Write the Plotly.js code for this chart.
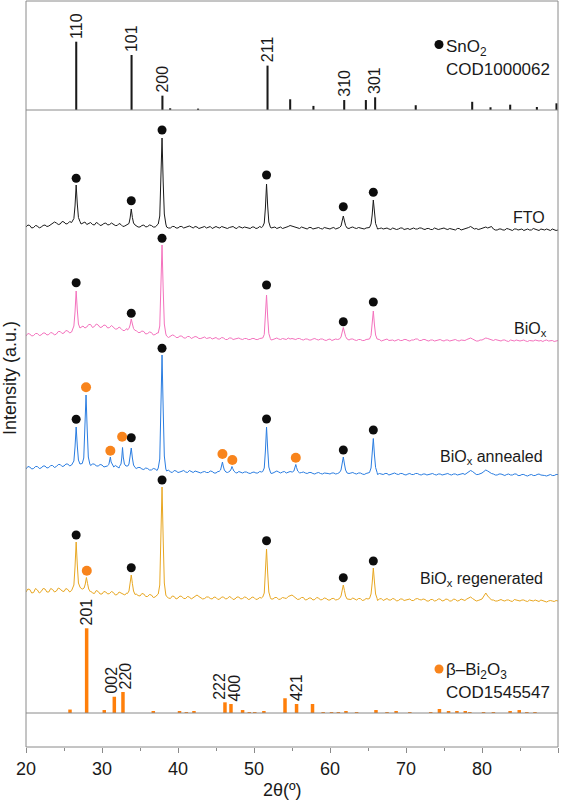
<!DOCTYPE html>
<html>
<head>
<meta charset="utf-8">
<script src="https://cdn.plot.ly/plotly-3.0.1.min.js"></script>
<style>
  html, body { margin: 0; padding: 0; background: #ffffff; }
  #chart { width: 566px; height: 802px; }
</style>
</head>
<body>
<div id="chart"></div>
<script>
// ---- background readings: whole-step grid from SCAN_START, plus the readings halfway between ----
const SCAN_START = 20;
const SCAN_STEP = 0.5;

// ---- SnO2 reference pattern (COD 1000062): 2θ, relative intensity, hkl ----
const snoPos = [26.61, 33.89, 37.95, 38.97, 42.64, 51.78, 54.76, 57.82, 61.87, 64.72, 65.94, 71.28, 78.71, 81.12, 83.71, 87.22, 89.8];
const snoInt = [100, 80.5, 21, 2.5, 2, 65, 15.7, 6, 14.6, 14.6, 18.6, 7, 12, 4, 7.8, 4.4, 9.8];
const snoHkl = ['110', '101', '200', '', '', '211', '', '', '310', '', '301', '', '', '', '', '', ''];

// ---- β-Bi2O3 reference pattern (COD 1545547): 2θ, relative intensity, hkl ----
const biPos = [25.79, 27.98, 30.3, 31.62, 32.76, 36.75, 40.2, 41.1, 42.1, 46.18, 46.97, 48.5, 49.38, 50.1, 51.3, 54.08, 55.6, 57.7,
               59.1, 60.2, 61.1, 62.1, 63.5, 66.05, 67.5, 68.7, 70.5, 73.25, 74.4, 75.6, 76.7, 77.8, 78.4, 80.2, 81.5, 83.7, 84.9, 85.9, 86.97];
const biInt = [4.1, 100, 3.5, 19.2, 24.8, 2.4, 2.4, 1.2, 2.4, 12.6, 10.6, 3.5, 1.2, 1.2, 2.4, 17.4, 10.6, 10.6,
               1.2, 1.2, 1.2, 2.4, 1.2, 3.5, 1.2, 2.4, 1.2, 1.2, 4.7, 2.4, 2.4, 2.4, 1.2, 1.2, 1.2, 2.4, 3.5, 1.2, 1.2];
const biHkl = ['', '201', '', '002', '220', '', '', '', '', '222', '400', '', '', '', '', '', '421', '',
               '', '', '', '', '', '', '', '', '', '', '', '', '', '', '', '', '', '', '', '', ''];

// ---- FTO substrate ----
const ftoBg = [
  3, 4.5, 2.5, 4, 3, 5, 4, 6.5, 7, 6,
  8, 6.5, 7.5, 8, 7, 7, 5.5, 7.5, 5, 6.5,
  5, 7, 5.5, 6, 4.5, 5.5, 4, 5, 5, 4.5,
  3, 5, 3.5, 4.5, 3, 4, 4, 3, 2, 3.5,
  2, 3.5, 2.5, 4, 2, 3, 2, 3.5, 2.5, 1.5,
  3.5, 2, 3, 1.5, 3, 2, 3.5, 2, 2.5, 1.5,
  3, 2, 2.5, 2, 2, 2.5, 1.5, 3, 2, 3.5,
  4, 2.5, 1.5, 2.5, 1, 2.5, 1.5, 2.5, 1, 2,
  1, 2.5, 1.5, 2, 2, 1.5, 3, 1.5, 2, 1,
  2.5, 1.5, 1.5, 1.5, 1, 2, 0.5, 1.5, 1, 2,
  1, 0.5, 2, 1, 2, 0.5, 1.5, 0.5, 1.5, 1,
  2, 0.5, 1, 0, 1.5, 0.5, 1.5, 3.5, 1, 0.5,
  1.5, 3, 2.5, 1, 0, 1, 0, 1, -0.5, 1,
  0.5, -0.5, 1, 0, 1, -0.5, 0.5, 1, -0.5, 0.5,
  0];
const ftoBgMid = [
  5, 2, 4.5, 2, 4.5, 3.5, 5.5, 8, 5.5, 8.5,
  6, 8.5, 6.5, 8.5, 6, 8, 6.5, 5.5, 7.5, 4.5,
  6.5, 5, 7, 4.5, 6.5, 3.5, 5.5, 4, 5.5, 3,
  4.5, 3, 5, 3, 4.5, 3, 4.5, 2, 3.5, 2,
  3.5, 2, 3.5, 3, 3.5, 1.5, 3, 2, 3.5, 2.5,
  2.5, 3.5, 2, 2.5, 3.5, 1.5, 2.5, 3, 1.5, 3,
  1.5, 3.5, 1.5, 3, 2, 3, 2.5, 1.5, 3, 4.5,
  3, 2, 3, 1.5, 2.5, 1, 2.5, 1.5, 2.5, 1,
  2, 1, 2.5, 1, 2.5, 2.5, 2, 2.5, 1, 2,
  1.5, 2.5, 1, 2, 1.5, 1, 2, 0.5, 2, 0.5,
  1.5, 1.5, 1, 2, 1, 1.5, 0.5, 2, 0.5, 1.5,
  1, 1.5, 0, 1.5, 0, 1.5, 2.5, 2, 1.5, 1,
  2.5, 2, 3.5, 0, 1, 0, 1.5, 0, 1, 0,
  1, 0.5, 0, 1.5, 0, 1, 0, 0, 1, -0.5];
const ftoPeaks = [
  [26.1, 8.5], [26.3, 11.5], [26.45, 24], [26.6, 45], [26.75, 26], [26.9, 12.5], [27.1, 8.5],
  [33.35, 5.5], [33.55, 6.5], [33.7, 12], [33.85, 21], [34.0, 12.5], [34.15, 7], [34.35, 5],
  [37.4, 6], [37.6, 14], [37.75, 44], [37.9, 92], [38.05, 48], [38.2, 16], [38.4, 6],
  [51.15, 3.5], [51.35, 7], [51.5, 22], [51.65, 46], [51.8, 24], [51.95, 8], [52.15, 3],
  [61.25, 2.5], [61.45, 4], [61.6, 8], [61.75, 14], [61.9, 9], [62.05, 4.5], [62.25, 2],
  [65.2, 2.5], [65.4, 6], [65.55, 15], [65.7, 30], [65.85, 17], [66.0, 6.5], [66.2, 2.5]];
const ftoSnoX = [26.6, 33.85, 37.9, 51.65, 61.75, 65.7];
const ftoSnoY = [51.7, 29.3, 100, 55, 23.3, 37.7];

// ---- BiOx as deposited ----
const bioxBg = [
  5, 7, 5.5, 7.5, 6, 8, 6.5, 8, 7, 9.5,
  8, 10, 9, 11, 12, 15, 14, 16.5, 14.5, 16,
  14, 15.5, 13.5, 14, 12, 12.5, 10.5, 11, 10, 10.5,
  8.5, 9.5, 7.5, 8.5, 6.5, 7, 6, 5, 4.5, 5.5,
  3.5, 5, 3, 4.5, 3.5, 4, 2.5, 4, 3, 2,
  3.5, 2, 3, 1.5, 3, 2, 3, 1.5, 2.5, 1.5,
  2.5, 1.5, 3, 2, 2, 1.5, 3, 1.5, 2, 3,
  2.5, 1.5, 2.5, 1, 2, 1, 2.5, 1, 2, 0.5,
  2, 1, 1.5, 2, 2, 1, 2, 0.5, 1.5, 0.5,
  2, 1, 1, 1.5, 0.5, 2, 1, 0, 1.5, 0.5,
  1.5, 0, 1, 2, 0.5, 1.5, 0, 1, 0.5, 1.5,
  0, 1, 0.5, 1.5, 0, 1, 1.5, 3, 1, 0,
  1, 3, 2, 0.5, 1, 0, 1, -0.5, 0.5, 1,
  0, 1, -0.5, 0.5, 1, 0, -0.5, 1, 0, -0.5,
  0.5];
const bioxBgMid = [
  7.5, 5, 7.5, 5.5, 8, 6, 8.5, 6, 9.5, 7.5,
  10.5, 8, 11, 10, 14, 13, 16.5, 13.5, 17, 13.5,
  16, 13, 15.5, 12, 14, 10.5, 12.5, 9.5, 11.5, 8.5,
  10, 7, 9, 6, 8, 5.5, 6.5, 3.5, 6, 3.5,
  5, 3, 4.5, 2.5, 4.5, 2.5, 3.5, 2.5, 3.5, 3,
  2, 3.5, 1.5, 3, 1.5, 3, 2, 2.5, 1.5, 2.5,
  1.5, 2.5, 2, 3, 1, 2.5, 2, 2.5, 1.5, 2,
  2, 2.5, 1.5, 2, 1, 2, 1.5, 2, 1, 1.5,
  0.5, 2, 1, 1, 1.5, 2, 1, 1.5, 0.5, 1.5,
  1, 1.5, 2, 0, 1.5, 0.5, 1, 1, 0.5, 1.5,
  0.5, 1, 2, 0.5, 1.5, 0.5, 1, 0, 1.5, 0.5,
  1, 0, 1.5, 0.5, 1, 0.5, 2.5, 2, 0, 1,
  2, 2.5, 1, 1.5, 0, 1, 0, 1, 0, 0.5,
  0.5, 0, 0.5, 0, 0.5, 0.5, 0.5, 0, 0.5, 0];
const bioxPeaks = [
  [26.1, 12], [26.3, 15], [26.45, 29], [26.6, 50], [26.75, 31], [26.9, 17], [27.1, 13],
  [33.35, 11], [33.55, 12.5], [33.7, 16], [33.85, 22], [34.0, 17], [34.15, 12.5], [34.35, 10.5],
  [37.4, 8], [37.6, 15], [37.75, 50], [37.9, 96], [38.05, 52], [38.2, 17], [38.4, 7],
  [51.15, 3], [51.35, 6.5], [51.5, 22], [51.65, 46], [51.8, 24], [51.95, 7.5], [52.15, 2.5],
  [61.25, 2], [61.45, 4], [61.6, 8], [61.75, 13.5], [61.9, 9], [62.05, 4.5], [62.25, 2],
  [65.2, 2], [65.4, 5.5], [65.55, 15], [65.7, 30], [65.85, 16], [66.0, 6], [66.2, 2]];
const bioxSnoX = [26.6, 33.85, 37.9, 51.65, 61.75, 65.7];
const bioxSnoY = [58.3, 27.7, 102.7, 56, 19.3, 39];

// ---- BiOx annealed ----
const annBg = [
  6, 8, 6.5, 8.5, 7, 9, 7.5, 9.5, 8.5, 10.5,
  9, 11, 10, 11, 10, 10, 11, 9.5, 11, 9,
  10, 8.5, 9, 7.5, 8.5, 8, 7.5, 8, 7, 6.5,
  7.5, 5.5, 6.5, 5, 6, 5, 5, 4, 3, 4.5,
  2.5, 4, 3, 4.5, 2.5, 3.5, 2, 3.5, 2.5, 3.5,
  2, 3, 3, 2.5, 3, 2.5, 3.5, 2, 3, 1.5,
  3, 2, 3, 2.5, 2.5, 2, 4, 2, 3.5, 2.5,
  3, 3, 2, 3, 1.5, 2.5, 1, 2.5, 1, 2,
  1, 2, 1.5, 2, 2, 1.5, 2.5, 1, 2, 0.5,
  2, 1.5, 1.5, 1.5, 0.5, 1.5, 0.5, 2, 0.5, 1.5,
  0, 1.5, 0.5, 1.5, 0, 1, 0.5, 1.5, 0, 1,
  0.5, 1.5, 0, 1, 0.5, 1.5, 2, 4.5, 1.5, 0.5,
  2, 5, 2.5, 1, 0, 1, -0.5, 1, 0, 1,
  -0.5, 0.5, -1, 0.5, -0.5, 1, 0, -1, 0.5, -0.5,
  0.5];
const annBgMid = [
  8.5, 6, 8.5, 6.5, 9, 7, 9.5, 7.5, 10.5, 8.5,
  11, 9, 11.5, 9.5, 11.5, 9, 10, 11, 9, 10.5,
  8, 10, 7.5, 9.5, 7, 9, 6.5, 8.5, 6, 7.5,
  6, 7, 5, 6.5, 4.5, 6, 4, 5, 2.5, 4,
  3, 4.5, 2.5, 3.5, 4, 2.5, 3, 2.5, 4, 2,
  3.5, 2, 3.5, 2, 3.5, 2, 3, 3, 2, 2.5,
  2, 3.5, 2, 3.5, 1.5, 3, 3, 3, 2, 3.5,
  2, 3.5, 2.5, 2, 2.5, 1.5, 2, 1.5, 2, 1.5,
  2, 1, 2.5, 1, 2.5, 2, 1.5, 2, 1, 1.5,
  1, 2, 0.5, 1, 1.5, 0, 1.5, 1, 1.5, 0.5,
  1, 0.5, 1.5, 0.5, 1, 0, 1.5, 0.5, 1, 0,
  1.5, 0.5, 1, 0, 1.5, 0.5, 3, 3.5, 0.5, 1,
  3.5, 4, 1.5, 0, 1, 0, 0.5, 0, 1, -0.5,
  0.5, -0.5, 0, -0.5, 0.5, 0, -0.5, 0, -0.5, 0.5];
const annPeaks = [
  [26.1, 11], [26.3, 14], [26.45, 28], [26.6, 48], [26.75, 29], [26.9, 15], [27.1, 11],
  [27.4, 11.5], [27.6, 17], [27.75, 44], [27.9, 80], [28.05, 46], [28.2, 18], [28.4, 11],
  [30.7, 9], [30.9, 10.5], [31.0, 13], [31.1, 18], [31.2, 13], [31.35, 10], [31.55, 8],
  [32.3, 8.5], [32.5, 11], [32.6, 17], [32.7, 27.5], [32.8, 18], [32.95, 11], [33.15, 9],
  [33.4, 9], [33.55, 11], [33.7, 17], [33.85, 27], [34.0, 17], [34.15, 10], [34.35, 7.5],
  [37.4, 7], [37.6, 16], [37.75, 62], [37.9, 120], [38.05, 66], [38.2, 19], [38.4, 6],
  [45.4, 3.5], [45.6, 5], [45.75, 8.5], [45.85, 13], [45.95, 9], [46.1, 5], [46.3, 3],
  [46.65, 3], [46.85, 4], [47.0, 6], [47.1, 8.5], [47.2, 6.5], [47.35, 4], [47.55, 2.5],
  [51.15, 3.5], [51.35, 7], [51.5, 24], [51.65, 48], [51.8, 26], [51.95, 8], [52.15, 3],
  [55.05, 3], [55.25, 4], [55.4, 7], [55.5, 10.5], [55.6, 7.5], [55.75, 4], [55.95, 2.5],
  [61.25, 2.5], [61.45, 5], [61.6, 10], [61.75, 18], [61.9, 11], [62.05, 5], [62.25, 2],
  [65.2, 2.5], [65.4, 7], [65.55, 19], [65.7, 36.5], [65.85, 20], [66.0, 7.5], [66.2, 2.5]];
const annSnoX = [26.6, 33.85, 37.9, 51.65, 61.75, 65.7];
const annSnoY = [55.7, 37.3, 126.7, 56, 25, 45];
const annBiX = [27.9, 31.1, 32.65, 45.85, 47.15, 55.5];
const annBiY = [87.7, 24.3, 38.3, 21, 15, 17.3];

// ---- BiOx regenerated ----
const regBg = [
  9, 11.5, 8.5, 11, 9.5, 12, 9, 11.5, 10, 12,
  9.5, 11.5, 10.5, 12, 11, 10, 9, 10, 7.5, 9.5,
  7, 9, 7.5, 8.5, 6.5, 8, 6, 7, 6, 7,
  5, 7, 4.5, 6, 4, 5, 4, 4.5, 2.5, 4.5,
  3, 4.5, 2.5, 4, 3.5, 6, 3.5, 2.5, 4, 2,
  3.5, 2, 4, 2.5, 3.5, 2, 4, 2.5, 3.5, 2,
  3.5, 2, 3, 3, 3, 2, 3.5, 2, 3, 4.5,
  6, 3, 2, 3.5, 1.5, 3, 1.5, 3, 1.5, 2.5,
  1, 2.5, 1.5, 2, 2, 1.5, 3, 1, 2.5, 1,
  2, 1.5, 1.5, 2, 0.5, 2.5, 1, 2, 0.5, 2,
  1, 2, 0.5, 2.5, 1, 1.5, 0, 1.5, 0.5, 2,
  0.5, 1.5, 0, 1.5, 0.5, 1.5, 2, 4, 1, 0.5,
  2, 8, 3, 1, 0, 1.5, 0, 1, -0.5, 1,
  0, 1, -0.5, 0.5, 1, -0.5, 0.5, -1, 0.5, -0.5,
  0];
const regBgMid = [
  12, 8, 12.5, 8, 12.5, 9, 12.5, 9, 13, 10,
  12.5, 9, 13, 10.5, 12.5, 8.5, 11, 8, 10.5, 7,
  9.5, 7, 9.5, 6, 9, 6.5, 8, 5, 8, 5.5,
  7.5, 4.5, 6.5, 3.5, 6, 3, 5.5, 3, 5, 2,
  5, 2.5, 4.5, 2, 5, 4.5, 2, 4, 2.5, 4,
  1.5, 4, 2, 4.5, 1.5, 4, 2, 4, 1.5, 4,
  1.5, 3.5, 1.5, 4, 2, 3.5, 1.5, 3.5, 2.5, 5.5,
  4.5, 1.5, 3.5, 1, 3, 1, 3.5, 1, 3, 1,
  2.5, 1, 3, 1, 3, 1.5, 2, 2.5, 0.5, 2.5,
  1, 2.5, 0.5, 2.5, 1.5, 1, 2.5, 0, 2, 0.5,
  2, 0.5, 2, 1.5, 2, 0, 1.5, 0, 2, 0,
  2, 0, 2, 0, 2, 0.5, 3, 2.5, 0, 1.5,
  5, 5, 1, 0, 1, 0.5, 1, 0, 1.5, 0,
  1, 0, 1, 0, 0, 1, -0.5, 0, 0, 0.5];
const regPeaks = [
  [26.1, 12], [26.3, 16], [26.45, 34], [26.6, 59], [26.75, 36], [26.9, 18], [27.1, 14],
  [27.45, 12], [27.65, 13], [27.8, 17], [27.95, 23.5], [28.1, 17.5], [28.25, 12], [28.45, 9.5],
  [33.35, 7.5], [33.55, 10], [33.7, 17], [33.85, 26], [34.0, 17.5], [34.15, 10], [34.35, 6.5],
  [37.4, 7], [37.6, 16], [37.75, 60], [37.9, 114], [38.05, 62], [38.2, 18], [38.4, 6],
  [51.15, 4], [51.35, 8], [51.5, 26], [51.65, 52], [51.8, 28], [51.95, 9], [52.15, 3.5],
  [61.25, 2.5], [61.45, 5], [61.6, 9.5], [61.75, 16], [61.9, 10.5], [62.05, 5], [62.25, 2],
  [65.2, 2.5], [65.4, 7], [65.55, 18], [65.7, 33], [65.85, 19], [66.0, 7], [66.2, 2.5]];
const regSnoX = [26.6, 33.85, 37.9, 51.65, 61.75, 65.7];
const regSnoY = [66, 33.3, 121, 60.3, 23.3, 40];
const regBiX = [28.0];
const regBiY = [30.3];

// ---------------------------------------------------------------------------
// drawing
// ---------------------------------------------------------------------------
const FONT = 'Liberation Sans, Arial, Helvetica, sans-serif';
const INK = '#1a1a1a';
const AXIS = '#8a8a8a';
const ORANGE_BAR = '#ff7f0a';
const ORANGE_DOT = '#f8841c';

// plot-area geometry (pixels) used to place panels and free text
const W = 566, H = 802;
const M = { l: 26, r: 8, t: 1, b: 55 };
const plotW = W - M.l - M.r;        // 532
const plotH = H - M.t - M.b;        // 746
const plotBottom = H - M.b;         // 747
const px2x = px => (px - M.l) / plotW;
const px2y = py => (plotBottom - py) / plotH;

const topPanelBase = 110;           // baseline of the SnO2 stick panel
const biPanelBase = 713;            // baseline of the Bi2O3 stick panel
const yTop = px2y(topPanelBase);
const yBi = px2y(biPanelBase);

// stacking of the measured patterns on the lower panel (px-like units)
const samples = [
  { name: 'FTO', bg: ftoBg, mid: ftoBgMid, peaks: ftoPeaks, color: '#1a1a1a', offset: 517, snX: ftoSnoX, snY: ftoSnoY, biX: [], biY: [],
    label: 'FTO', lx: 546.5, ly: 218 },
  { name: 'BiOx', bg: bioxBg, mid: bioxBgMid, peaks: bioxPeaks, color: '#f472bd', offset: 406, snX: bioxSnoX, snY: bioxSnoY, biX: [], biY: [],
    label: 'BiO<sub>x</sub>', lx: 548.5, ly: 330 },
  { name: 'BiOx annealed', bg: annBg, mid: annBgMid, peaks: annPeaks, color: '#2a7de1', offset: 272, snX: annSnoX, snY: annSnoY, biX: annBiX, biY: annBiY,
    label: 'BiO<sub>x</sub> annealed', lx: 544.5, ly: 457 },
  { name: 'BiOx regenerated', bg: regBg, mid: regBgMid, peaks: regPeaks, color: '#e8a722', offset: 146, snX: regSnoX, snY: regSnoY, biX: regBiX, biY: regBiY,
    label: 'BiO<sub>x</sub> regenerated', lx: 544.5, ly: 579.5 }
];

// merge the background readings with the sampled peak profiles
function buildPattern(bg, mid, peaks) {
  const pk = peaks.slice().sort((a, b) => a[0] - b[0]);
  const spans = [];
  pk.forEach(p => {
    const s = spans[spans.length - 1];
    if (s && p[0] - s[1] < 0.32) s[1] = p[0]; else spans.push([p[0], p[0]]);
  });
  const free = x => !spans.some(s => x >= s[0] && x <= s[1]);
  const pts = [];
  bg.forEach((v, i) => {
    const x = SCAN_START + i * SCAN_STEP;
    if (free(x)) pts.push([x, v]);
  });
  mid.forEach((v, i) => {
    const x = SCAN_START + SCAN_STEP / 2 + i * SCAN_STEP;
    if (free(x)) pts.push([x, v]);
  });
  pk.forEach(p => pts.push(p));
  pts.sort((a, b) => a[0] - b[0]);
  return pts;
}

const traces = [];

// reference sticks
traces.push({
  type: 'bar', x: snoPos, y: snoInt, xaxis: 'x', yaxis: 'y', width: 0.27,
  marker: { color: INK, line: { width: 0 } }, hoverinfo: 'skip', showlegend: false
});
traces.push({
  type: 'bar', x: biPos, y: biInt, xaxis: 'x', yaxis: 'y3', width: 0.46,
  marker: { color: ORANGE_BAR, line: { width: 0 } }, hoverinfo: 'skip', showlegend: false
});

// measured patterns
samples.forEach(s => {
  const pts = buildPattern(s.bg, s.mid, s.peaks);
  traces.push({
    type: 'scatter', mode: 'lines', xaxis: 'x', yaxis: 'y2',
    x: pts.map(p => p[0]), y: pts.map(p => p[1] + s.offset),
    line: { color: s.color, width: 1 }, hoverinfo: 'skip', showlegend: false, name: s.name
  });
});

// phase markers above the peaks
samples.forEach(s => {
  traces.push({
    type: 'scatter', mode: 'markers', xaxis: 'x', yaxis: 'y2',
    x: s.snX, y: s.snY.map(v => v + s.offset),
    marker: { size: 9, color: '#0d0d0d' }, hoverinfo: 'skip', showlegend: false, cliponaxis: false
  });
  if (s.biX.length) {
    traces.push({
      type: 'scatter', mode: 'markers', xaxis: 'x', yaxis: 'y2',
      x: s.biX, y: s.biY.map(v => v + s.offset),
      marker: { size: 10, color: ORANGE_DOT }, hoverinfo: 'skip', showlegend: false, cliponaxis: false
    });
  }
});

const annotations = [];

// hkl labels on the reference sticks
snoHkl.forEach((t, i) => {
  if (!t) return;
  annotations.push({
    x: snoPos[i], y: snoInt[i], xref: 'x', yref: 'y', text: t, textangle: -90,
    showarrow: false, xanchor: 'center', yanchor: 'bottom', yshift: 1,
    font: { family: FONT, size: 16, color: INK }
  });
});
const biShift = { '002': -3, '220': 3, '222': -5, '400': 4 };
biHkl.forEach((t, i) => {
  if (!t) return;
  annotations.push({
    x: biPos[i], y: biInt[i], xref: 'x', yref: 'y3', text: t, textangle: -90,
    showarrow: false, xanchor: 'center', yanchor: 'bottom', yshift: 1, xshift: biShift[t] || 0,
    font: { family: FONT, size: 16, color: INK }
  });
});

// sample names
samples.forEach(s => {
  annotations.push({
    x: px2x(s.lx), y: px2y(s.ly), xref: 'paper', yref: 'paper', text: s.label,
    showarrow: false, xanchor: 'right', yanchor: 'middle',
    font: { family: FONT, size: 16, color: INK }
  });
});

// phase keys
const keyText = (t, py) => ({
  x: px2x(444), y: px2y(py), xref: 'paper', yref: 'paper', text: t,
  showarrow: false, xanchor: 'left', yanchor: 'middle',
  font: { family: FONT, size: 17, color: INK }
});
annotations.push(keyText('SnO<sub>2</sub>', 48));
annotations.push(keyText('COD1000062', 70));
annotations.push(keyText('β–Bi<sub>2</sub>O<sub>3</sub>', 671));
annotations.push(keyText('COD1545547', 692));

// axis titles
annotations.push({
  x: px2x(10), y: px2y(378), xref: 'paper', yref: 'paper', text: 'Intensity (a.u.)',
  textangle: -90, showarrow: false, xanchor: 'center', yanchor: 'middle',
  font: { family: FONT, size: 18, color: INK }
});
annotations.push({
  x: px2x(282), y: px2y(790), xref: 'paper', yref: 'paper', text: '2θ(º)',
  showarrow: false, xanchor: 'center', yanchor: 'middle',
  font: { family: FONT, size: 18, color: INK }
});

const keyDot = (py, color) => ({
  type: 'circle', xref: 'paper', yref: 'paper', xsizemode: 'pixel', ysizemode: 'pixel',
  xanchor: px2x(439), yanchor: px2y(py), x0: -4.5, x1: 4.5, y0: -4.5, y1: 4.5,
  fillcolor: color, line: { width: 0 }
});

const shapes = [
  { type: 'rect', xref: 'paper', yref: 'paper', x0: 0, x1: 1, y0: 0, y1: 1, line: { color: AXIS, width: 1 }, layer: 'above' },
  { type: 'line', xref: 'paper', yref: 'paper', x0: 0, x1: 1, y0: yTop, y1: yTop, line: { color: AXIS, width: 1 }, layer: 'above' },
  { type: 'line', xref: 'paper', yref: 'paper', x0: 0, x1: 1, y0: yBi, y1: yBi, line: { color: AXIS, width: 1 }, layer: 'above' },
  keyDot(44.5, '#0d0d0d'),
  keyDot(669, ORANGE_DOT)
];

const layout = {
  width: W, height: H,
  margin: { l: M.l, r: M.r, t: M.t, b: M.b, pad: 0 },
  paper_bgcolor: '#ffffff', plot_bgcolor: 'rgba(0,0,0,0)',
  showlegend: false, barmode: 'overlay',
  font: { family: FONT, color: INK },
  xaxis: {
    range: [20, 90], anchor: 'y2', showgrid: false, zeroline: false, showline: false,
    ticks: 'outside', ticklen: 5, tickwidth: 1, tickcolor: AXIS, tick0: 20, dtick: 10,
    tickfont: { family: FONT, size: 18, color: INK },
    minor: { tick0: 20, dtick: 5, ticks: 'outside', ticklen: 3, tickwidth: 1, tickcolor: AXIS, showgrid: false },
    fixedrange: true
  },
  yaxis: { domain: [yTop, 1], range: [0, 159.6], visible: false, fixedrange: true },
  yaxis2: { domain: [0, yTop], range: [0, 637], visible: false, fixedrange: true },
  yaxis3: { domain: [yBi, yTop], range: [0, 711.9], visible: false, fixedrange: true },
  shapes: shapes,
  annotations: annotations
};

Plotly.newPlot('chart', traces, layout, { staticPlot: true, displayModeBar: false });
</script>
</body>
</html>
